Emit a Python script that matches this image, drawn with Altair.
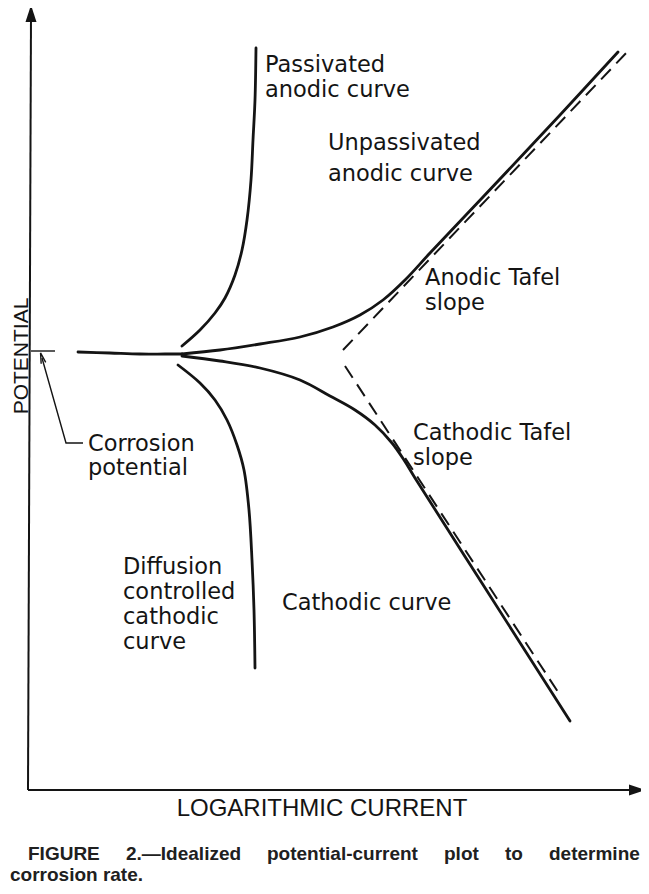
import altair as alt
import pandas as pd

# ---- curve data: x = logarithmic current, y = potential (origin at axis corner)
trunk_x = [48, 80, 110, 135, 152]
trunk_y = [438, 437, 436, 436, 436]

anodic_x = [152, 190, 230, 270, 303, 330, 353, 375, 400, 453, 530, 588]
anodic_y = [436, 440, 446, 453, 463, 475, 490, 510, 537, 593, 675, 738]

cathodic_x = [152, 190, 230, 270, 300, 325, 345, 362, 374, 385, 450, 540]
cathodic_y = [434, 429, 422, 410, 394, 380, 365, 347, 330, 312, 210, 69]

passivated_x = [152, 170, 185, 195, 205, 212, 217, 221, 223, 225, 226]
passivated_y = [444, 460, 477, 492, 515, 540, 570, 610, 650, 690, 742]

diffusion_x = [148, 170, 185, 197, 207, 214, 219, 222, 224, 225]
diffusion_y = [425, 407, 390, 370, 345, 320, 280, 230, 180, 122]

anodic_tafel_x = [313, 600]
anodic_tafel_y = [440, 741]
cathodic_tafel_x = [315, 528]
cathodic_tafel_y = [424, 98]

ecorr_x = [1, 25]
ecorr_y = [439, 439]
leader_x = [12, 36, 53]
leader_y = [432, 347, 347]

axis_v_x = [1, -2]
axis_v_y = [775, 0]
axis_h_x = [-2, 604]
axis_h_y = [0, 0]

# ---- annotation texts (each entry is one block of lines)
label_lines = [
    ["Passivated", "anodic curve"],
    ["Unpassivated", "anodic curve"],
    ["Anodic Tafel", "slope"],
    ["Cathodic Tafel", "slope"],
    ["Diffusion", "controlled", "cathodic", "curve"],
    ["Cathodic curve"],
    ["Corrosion", "potential"],
]
label_x = [235, 298, 395, 383, 93, 252, 58]
label_y = [725, 647, 512, 357, 223, 187, 346]
label_lh = [25, 31, 25, 25, 25, 25, 24]

caption_words = ["FIGURE", "2.\u2014Idealized", "potential-current", "plot", "to",
                 "determine", "corrosion rate."]
caption_x = [-2, 96, 237, 414, 475, 519, -20]
caption_y = [-64, -64, -64, -64, -64, -64, -85]

X_DOMAIN = [-22, 611]
Y_DOMAIN = [-96, 782]
xs = alt.Scale(domain=X_DOMAIN, nice=False, zero=False)
ys = alt.Scale(domain=Y_DOMAIN, nice=False, zero=False)
X = alt.X("x:Q", scale=xs, axis=None)
Y = alt.Y("y:Q", scale=ys, axis=None)


def frame(series_dict):
    rows = []
    for name, (xv, yv) in series_dict.items():
        for i, (a, b) in enumerate(zip(xv, yv)):
            rows.append({"series": name, "i": i, "x": a, "y": b})
    return pd.DataFrame(rows)


ink = "#141414"

solid = frame({
    "trunk": (trunk_x, trunk_y),
    "anodic": (anodic_x, anodic_y),
    "cathodic": (cathodic_x, cathodic_y),
    "passivated": (passivated_x, passivated_y),
    "diffusion": (diffusion_x, diffusion_y),
})
dashed = frame({
    "anodic_tafel": (anodic_tafel_x, anodic_tafel_y),
    "cathodic_tafel": (cathodic_tafel_x, cathodic_tafel_y),
})
axes_df = frame({
    "axis_v": (axis_v_x, axis_v_y),
    "axis_h": (axis_h_x, axis_h_y),
})
thin = frame({
    "ecorr": (ecorr_x, ecorr_y),
    "leader": (leader_x, leader_y),
})

enc = dict(x=X, y=Y, detail="series:N", order="i:Q")

solid_layer = alt.Chart(solid).mark_line(
    color=ink, strokeWidth=2.8, interpolate="catmull-rom", strokeCap="round"
).encode(**enc)

dashed_layer = alt.Chart(dashed).mark_line(
    color=ink, strokeWidth=2.0, strokeDash=[14, 8]
).encode(**enc)

axes_layer = alt.Chart(axes_df).mark_line(color=ink, strokeWidth=2.0).encode(**enc)
thin_layer = alt.Chart(thin).mark_line(color=ink, strokeWidth=1.4).encode(**enc)

arrow_df = pd.DataFrame({
    "x": [1, 606],
    "y": [775, 0],
    "shape": ["M0,-1 L0.55,0.7 L-0.55,0.7 Z", "M1,0 L-0.7,0.55 L-0.7,-0.55 Z"],
})
arrows = alt.Chart(arrow_df).mark_point(filled=True, color=ink, size=400, opacity=1).encode(
    x=X, y=Y, shape=alt.Shape("shape:N", scale=None),
)

leader_tip = pd.DataFrame({"x": [12], "y": [432]})
leader_arrow = alt.Chart(leader_tip).mark_point(
    shape="M-0.45,1 L0,-1 L0.45,1", filled=False, color=ink, strokeWidth=1.4,
    size=110, angle=344, opacity=1
).encode(x=X, y=Y)

label_layers = []
for lines, lx, ly, lh in zip(label_lines, label_x, label_y, label_lh):
    df = pd.DataFrame({"label": ["\n".join(lines)], "x": [lx], "y": [ly]})
    label_layers.append(
        alt.Chart(df).mark_text(
            align="left", baseline="middle", font="DejaVu Sans", fontSize=22.5,
            color=ink, lineBreak="\n", lineHeight=lh
        ).encode(x=X, y=Y, text="label:N")
    )

ytitle = alt.Chart(pd.DataFrame({"t": ["POTENTIAL"], "x": [-8.5], "y": [434]})).mark_text(
    align="center", baseline="middle", font="Liberation Sans", fontSize=21,
    angle=270, color=ink
).encode(x=X, y=Y, text="t:N")

xtitle = alt.Chart(pd.DataFrame({"t": ["LOGARITHMIC CURRENT"], "x": [292], "y": [-19]})).mark_text(
    align="center", baseline="middle", font="Liberation Sans", fontSize=24, color=ink
).encode(x=X, y=Y, text="t:N")

cap_df = pd.DataFrame({"w": caption_words, "x": caption_x, "y": caption_y})
caption = alt.Chart(cap_df).mark_text(
    align="left", baseline="middle", font="Liberation Sans", fontSize=19,
    fontWeight="bold", color="#202020"
).encode(x=X, y=Y, text="w:N")

chart = alt.layer(
    axes_layer, thin_layer, dashed_layer, solid_layer, arrows, leader_arrow,
    *label_layers, ytitle, xtitle, caption
).properties(
    width=633, height=878, padding=0,
    autosize=alt.AutoSizeParams(type="none"),
).configure_view(stroke=None)

chart.save("out.html", embed_options={"renderer": "svg", "actions": False})
